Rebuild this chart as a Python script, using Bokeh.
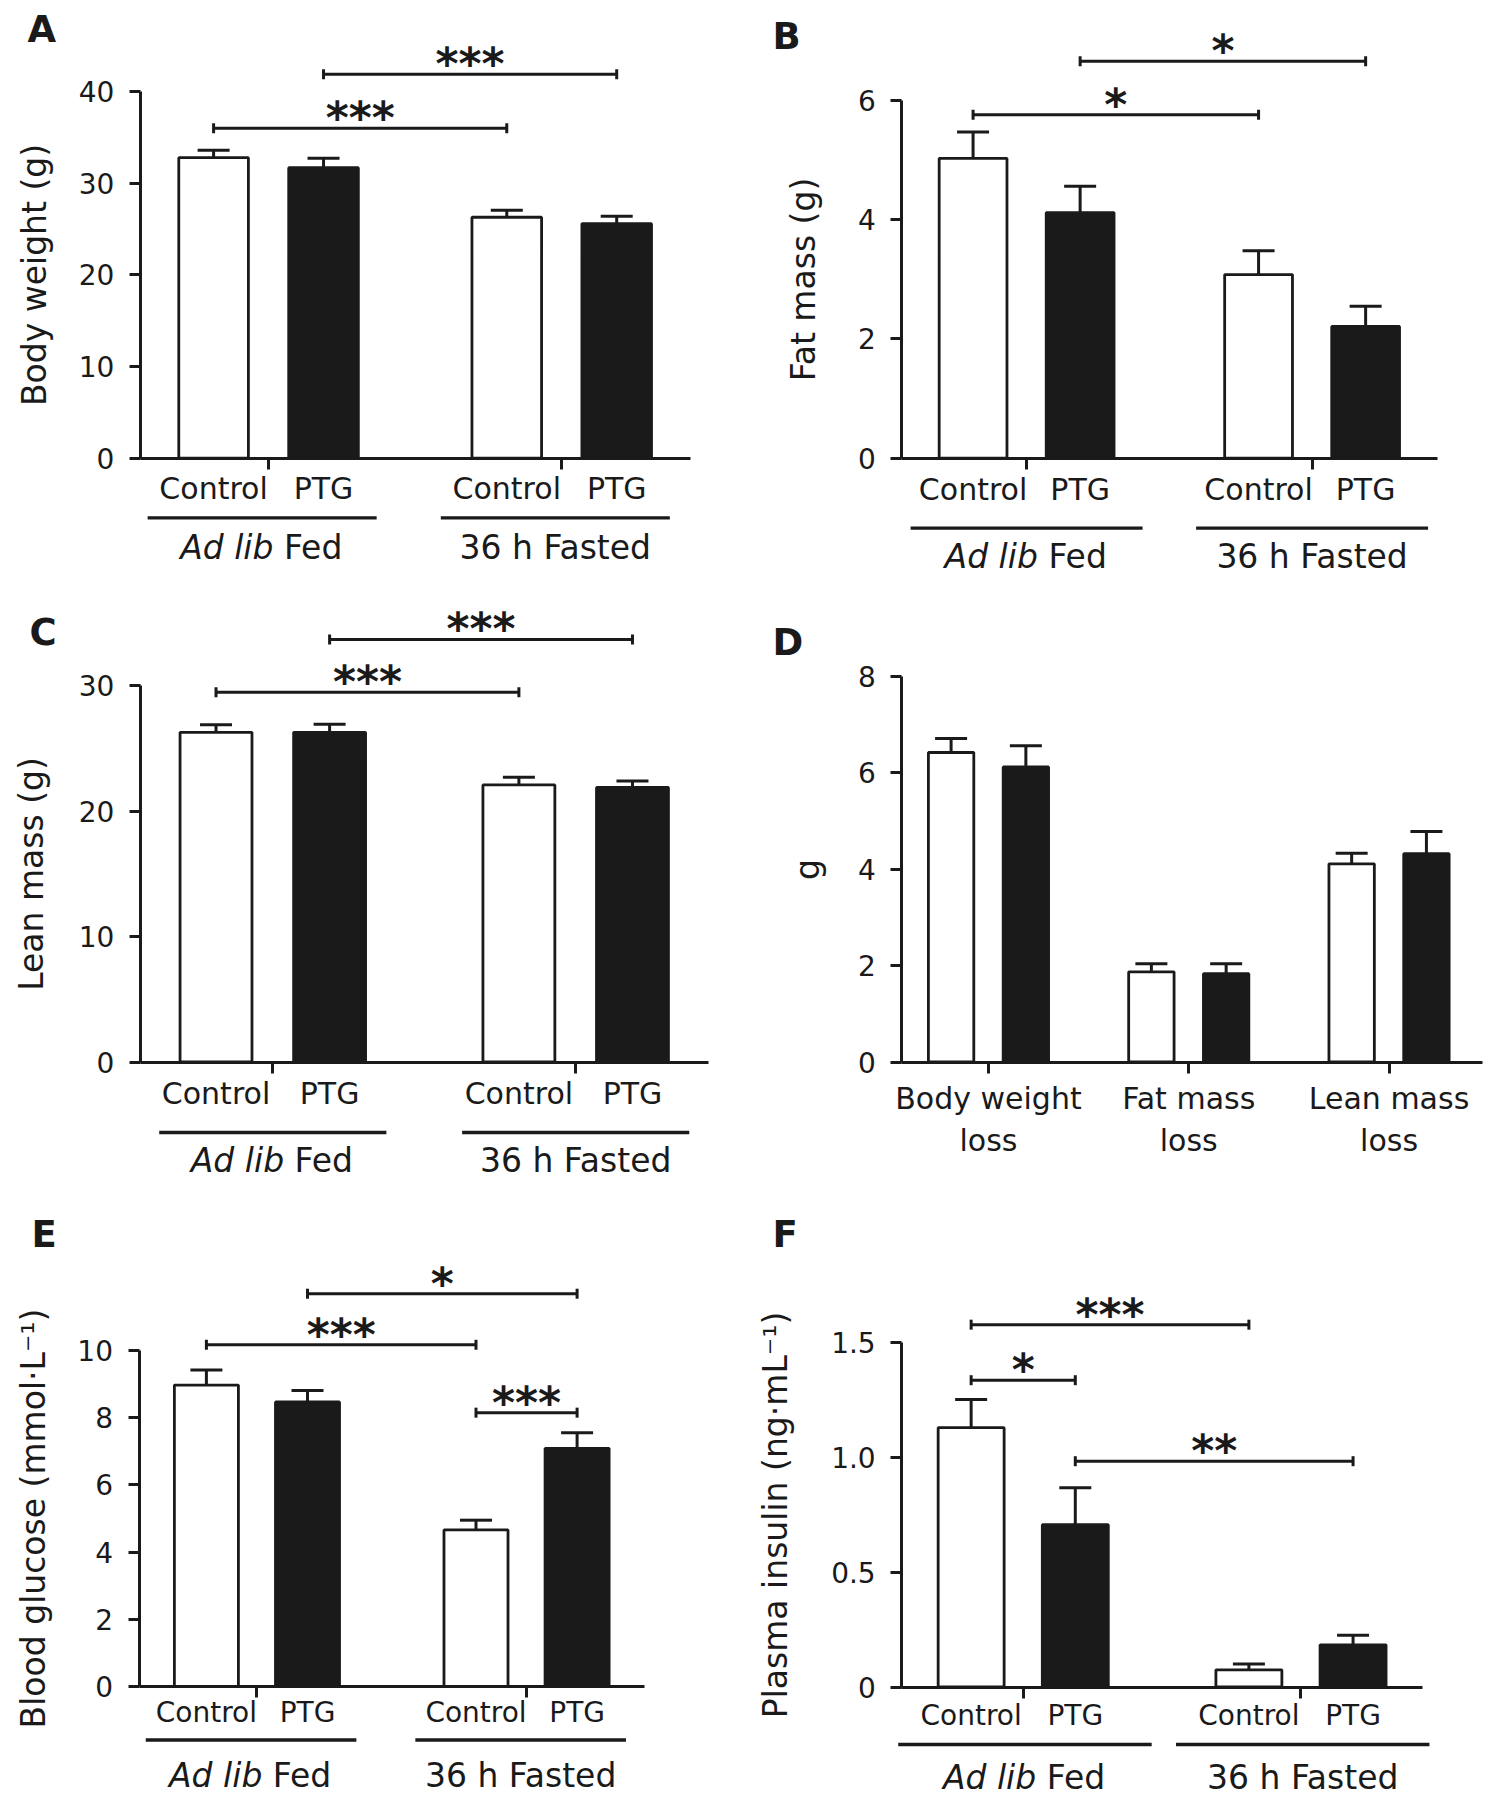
from bokeh.plotting import figure
from bokeh.layouts import column, row
from bokeh.models import (Range1d, FixedTicker, Label, Arrow, TeeHead, Whisker,
                          ColumnDataSource, LinearAxis)
from bokeh.embed import file_html
from bokeh.resources import INLINE

# ---------------- data ----------------
conditions = ["Control", "PTG", "Control", "PTG"]
condition_x = [2, 5, 10, 13]
condition_fill = ["white", "#1a1a1a", "white", "#1a1a1a"]
group_names = ["Ad lib Fed", "36 h Fasted"]
group_x = [3.5, 11.5]

# A: body weight (g)
bw_mean = [32.8, 31.7, 26.3, 25.6]
bw_sem = [0.8, 1.05, 0.75, 0.8]
bw_ticks = [0, 10, 20, 30, 40]
bw_sig = [(0, 2, 36.0, "***"), (1, 3, 41.9, "***")]

# B: fat mass (g)
fat_mean = [5.03, 4.12, 3.08, 2.21]
fat_sem = [0.44, 0.44, 0.40, 0.34]
fat_ticks = [0, 2, 4, 6]
fat_sig = [(0, 2, 5.76, "*"), (1, 3, 6.66, "*")]

# C: lean mass (g)
lean_mean = [26.3, 26.3, 22.1, 21.9]
lean_sem = [0.61, 0.64, 0.61, 0.52]
lean_ticks = [0, 10, 20, 30]
lean_sig = [(0, 2, 29.5, "***"), (1, 3, 33.7, "***")]

# D: loss during fasting (g)
loss_categories = ["Body weight\nloss", "Fat mass\nloss", "Lean mass\nloss"]
loss_x = [13, 43, 73]
loss_control = [6.42, 1.87, 4.11]
loss_control_sem = [0.29, 0.17, 0.22]
loss_ptg = [6.12, 1.83, 4.32]
loss_ptg_sem = [0.44, 0.21, 0.46]
loss_ticks = [0, 2, 4, 6, 8]

# E: blood glucose (mmol/L)
glu_mean = [8.97, 8.47, 4.66, 7.09]
glu_sem = [0.45, 0.34, 0.29, 0.46]
glu_ticks = [0, 2, 4, 6, 8, 10]
glu_sig = [(0, 2, 10.17, "***"), (1, 3, 11.69, "*"), (2, 3, 8.15, "***")]

# F: plasma insulin (ng/mL)
ins_mean = [1.13, 0.707, 0.075, 0.184]
ins_sem = [0.123, 0.161, 0.025, 0.042]
ins_ticks = [0, 0.5, 1.0, 1.5]
ins_tick_labels = ["0", "0.5", "1.0", "1.5"]
ins_sig = [(0, 2, 1.579, "***"), (0, 1, 1.337, "*"), (1, 3, 0.984, "**")]

# ---------------- style ----------------
FONT = "DejaVu Sans"
INK = "#1a1a1a"
BASE_SHIFT = 0.40   # em correction for label baseline placement


def make_panel(cfg):
    fx, fy, fw, fh = cfg["fig"]
    L, R, T, B = cfg["frame"]
    xmax, ymax = cfg["xmax"], cfg["ymax"]
    ppx = (R - L) / xmax
    ppy = (B - T) / ymax

    def X(px):
        return (px - L) / ppx

    def Y(py):
        return (B - py) / ppy

    def YB(py, fs):
        return Y(py - BASE_SHIFT * fs)

    p = figure(width=fw, height=fh,
               x_range=Range1d(X(fx), X(fx + fw)), y_range=Range1d(Y(fy + fh), Y(fy)),
               output_backend="svg", toolbar_location=None, tools="",
               x_axis_location=None, y_axis_location=None,
               min_border=0, min_border_left=0, min_border_right=0,
               min_border_top=0, min_border_bottom=0)
    p.outline_line_color = None
    p.grid.visible = False
    p.background_fill_color = "white"
    p.border_fill_color = "white"

    # y axis (drawn at x = 0)
    ya = LinearAxis(fixed_location=0, bounds=(0, ymax), ticker=FixedTicker(ticks=cfg["yticks"]))
    ya.axis_label = cfg["ylabel"]
    ya.axis_label_text_font = FONT
    ya.axis_label_text_font_size = "33px"
    ya.axis_label_text_font_style = "normal"
    ya.axis_label_text_color = INK
    ya.axis_label_standoff = cfg["ylabel_standoff"]
    ya.major_label_text_font = FONT
    ya.major_label_text_font_size = "28px"
    ya.major_label_text_color = INK
    ya.major_label_standoff = 15
    ya.major_tick_out = 11
    ya.major_tick_in = 0
    ya.major_tick_line_width = 3
    ya.major_tick_line_color = INK
    ya.minor_tick_line_color = None
    ya.axis_line_width = 3
    ya.axis_line_color = INK
    if "ylabels" in cfg:
        ya.major_label_overrides = {t: s for t, s in zip(cfg["yticks"], cfg["ylabels"])}
    p.add_layout(ya, "left")

    # x axis (drawn at y = 0)
    xa = LinearAxis(fixed_location=0, bounds=(0, xmax))
    xa.axis_line_width = 3
    xa.axis_line_color = INK
    xa.major_label_text_font = FONT
    xa.major_label_text_font_size = cfg["xlabel_size"]
    xa.major_label_text_color = INK
    xa.major_label_standoff = cfg["xlabel_standoff"]
    xa.major_tick_in = 0
    xa.minor_tick_in = 0
    if cfg["kind"] == "paired":
        xa.ticker = FixedTicker(ticks=condition_x, minor_ticks=group_x)
        xa.major_label_overrides = {x: c for x, c in zip(condition_x, conditions)}
        xa.major_tick_out = 0
        xa.major_tick_line_color = None
        xa.minor_tick_out = 11
        xa.minor_tick_line_width = 3
        xa.minor_tick_line_color = INK
    else:
        xa.ticker = FixedTicker(ticks=loss_x)
        xa.major_label_overrides = {x: c for x, c in zip(loss_x, loss_categories)}
        xa.major_tick_out = 11
        xa.major_tick_line_width = 3
        xa.major_tick_line_color = INK
        xa.minor_tick_line_color = None
        xa.major_label_text_line_height = 1.2
    p.add_layout(xa, "below")

    # bars + error bars
    src = ColumnDataSource(dict(x=cfg["bx"], top=cfg["mean"],
                                hi=[m + s for m, s in zip(cfg["mean"], cfg["sem"])],
                                fill=cfg["fill"]))
    p.vbar(x="x", top="top", bottom=0, width=cfg["bar_w"], fill_color="fill",
           line_color=INK, line_width=2.8, source=src)
    p.add_layout(Whisker(source=src, base="x", lower="top", upper="hi", dimension="height",
                         line_width=3, line_color=INK, lower_head=None,
                         upper_head=TeeHead(size=32, line_width=3, line_color=INK)))

    # significance brackets
    sfs = 44
    for i, j, yv, txt in cfg.get("sig", []):
        x0, x1 = cfg["bx"][i], cfg["bx"][j]
        p.add_layout(Arrow(x_start=x0, y_start=yv, x_end=x1, y_end=yv, line_width=3, line_color=INK,
                           start=TeeHead(size=10, line_width=3, line_color=INK),
                           end=TeeHead(size=10, line_width=3, line_color=INK)))
        line_py = B - yv * ppy
        p.add_layout(Label(x=(x0 + x1) / 2, y=YB(line_py + 7, sfs), text=txt, text_align="center",
                           text_baseline="alphabetic", text_font="DejaVu Sans", text_font_style="bold",
                           text_font_size=f"{sfs}px", text_color=INK))

    # group underlines and labels
    if cfg["kind"] == "paired":
        lo, hi = cfg["uline"]
        yu = Y(B + cfg["uline_off"])
        fs = 33
        yl = YB(B + cfg["glabel_off"], fs)
        for k, gx in enumerate(group_x):
            p.add_layout(Arrow(x_start=gx + lo, y_start=yu, x_end=gx + hi, y_end=yu,
                               start=None, end=None, line_width=3.3, line_color=INK))
            cx = L + (gx + (lo + hi) / 2) * ppx
            if k == 0:
                w_it, w_sp, w_fed = 2.828 * fs, 0.318 * fs, 1.825 * fs
                left = cx - (w_it + w_sp + w_fed) / 2
                p.add_layout(Label(x=X(left), y=yl, text="Ad lib", text_align="left",
                                   text_baseline="alphabetic", text_font=FONT, text_font_style="italic",
                                   text_font_size=f"{fs}px", text_color=INK))
                p.add_layout(Label(x=X(left + w_it + w_sp), y=yl, text="Fed", text_align="left",
                                   text_baseline="alphabetic", text_font=FONT,
                                   text_font_size=f"{fs}px", text_color=INK))
            else:
                p.add_layout(Label(x=X(cx), y=yl, text=group_names[k], text_align="center",
                                   text_baseline="alphabetic", text_font=FONT,
                                   text_font_size=f"{fs}px", text_color=INK))

    # panel letter
    lfs = 37
    lx, lb = cfg["letter_pos"]
    p.add_layout(Label(x=X(lx), y=YB(lb, lfs), text=cfg["letter"], text_align="left",
                       text_baseline="alphabetic", text_font=FONT, text_font_style="bold",
                       text_font_size=f"{lfs}px", text_color=INK))
    return p


paired = dict(kind="paired", xmax=15, bx=condition_x, fill=condition_fill, bar_w=1.9)

cfgA = dict(paired, fig=(0, 0, 747, 600), frame=(139.8, 689.5, 91.2, 457.7), ymax=40,
            yticks=bw_ticks, ylabel="Body weight (g)", ylabel_standoff=22, mean=bw_mean, sem=bw_sem,
            sig=bw_sig, xlabel_size="30px", xlabel_standoff=2, uline=(-3.3, 2.95),
            uline_off=59.6, glabel_off=102, letter="A", letter_pos=(27, 44))
cfgB = dict(paired, fig=(747, 0, 747, 600), frame=(901.2, 1436.5, 100, 457.7), ymax=6,
            yticks=fat_ticks, ylabel="Fat mass (g)", ylabel_standoff=32, mean=fat_mean, sem=fat_sem,
            sig=fat_sig, xlabel_size="30px", xlabel_standoff=3, uline=(-3.25, 3.25),
            uline_off=70, glabel_off=111, letter="B", letter_pos=(772, 51))
cfgC = dict(paired, fig=(0, 600, 747, 600), frame=(139.8, 707.7, 685.4, 1061.5), ymax=30,
            yticks=lean_ticks, ylabel="Lean mass (g)", ylabel_standoff=25, mean=lean_mean, sem=lean_sem,
            sig=lean_sig, xlabel_size="30px", xlabel_standoff=3, uline=(-3.0, 3.0),
            uline_off=70.5, glabel_off=111.5, letter="C", letter_pos=(29, 647))
cfgD = dict(kind="loss", fig=(747, 600, 747, 600), frame=(901.2, 1482, 675.8, 1061.5), xmax=87, ymax=8,
            yticks=loss_ticks, ylabel="g", ylabel_standoff=28,
            bx=[v for g in loss_x for v in (g - 5.6, g + 5.6)],
            mean=[v for pair in zip(loss_control, loss_ptg) for v in pair],
            sem=[v for pair in zip(loss_control_sem, loss_ptg_sem) for v in pair],
            fill=["white", "#1a1a1a"] * 3, bar_w=6.8,
            xlabel_size="30px", xlabel_standoff=8, letter="D", letter_pos=(772, 657))
cfgE = dict(paired, fig=(0, 1200, 747, 598), frame=(138.5, 644, 1350, 1686), ymax=10,
            yticks=glu_ticks, ylabel="Blood glucose (mmol\u00b7L\u207b\u00b9)", ylabel_standoff=22,
            mean=glu_mean, sem=glu_sem, sig=glu_sig, xlabel_size="28px", xlabel_standoff=-2,
            uline=(-3.3, 2.95), uline_off=53.5, glabel_off=102, letter="E", letter_pos=(31, 1249))
cfgF = dict(paired, fig=(747, 1200, 747, 598), frame=(901.2, 1422, 1342.3, 1686.5), ymax=1.5,
            yticks=ins_ticks, ylabels=ins_tick_labels, ylabel="Plasma insulin (ng\u00b7mL\u207b\u00b9)",
            ylabel_standoff=33, mean=ins_mean, sem=ins_sem, sig=ins_sig, xlabel_size="28px",
            xlabel_standoff=1, uline=(-3.6, 3.7), uline_off=57.5, glabel_off=104,
            letter="F", letter_pos=(772, 1249))

pA, pB, pC, pD, pE, pF = [make_panel(c) for c in (cfgA, cfgB, cfgC, cfgD, cfgE, cfgF)]
layout = column(row(pA, pB), row(pC, pD), row(pE, pF))

with open("out.html", "w") as f:
    f.write(file_html(layout, INLINE))
